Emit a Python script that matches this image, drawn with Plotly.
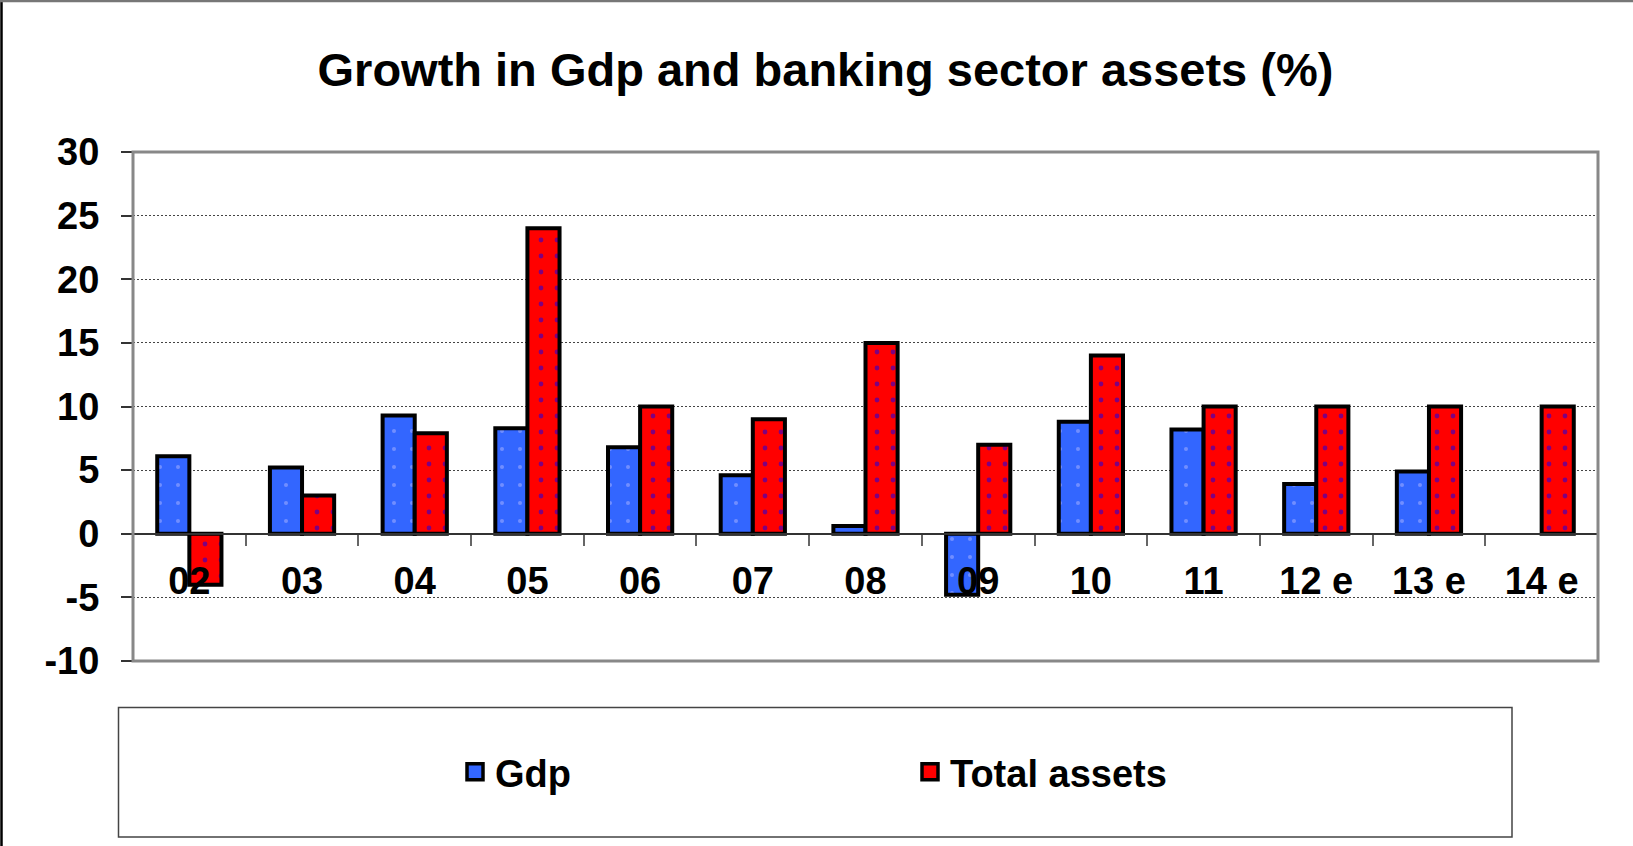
import plotly.graph_objects as go

categories = ["02", "03", "04", "05", "06", "07", "08", "09", "10", "11", "12 e", "13 e", "14 e"]
gdp = [6.1, 5.2, 9.3, 8.3, 6.8, 4.6, 0.6, -4.8, 8.8, 8.2, 3.9, 4.9, None]
total_assets = [-4.0, 3.0, 7.9, 24.0, 10.0, 9.0, 15.0, 7.0, 14.0, 10.0, 10.0, 10.0, 10.0]
y_ticks = [-10, -5, 0, 5, 10, 15, 20, 25, 30]
y_tick_text = ["-10", "-5", "0", "5", "10", "15", "20", "25", "30"]

FONT = "Liberation Sans, Arial, sans-serif"
W, H = 1633, 846
ML, MR, MT, MB = 133, 35, 152, 185
PW = W - ML - MR
PH = H - MT - MB


def px_x(px):
    return (px - ML) / PW


def px_y(py):
    return (H - MB - py) / PH


fig = go.Figure()

fig.add_trace(go.Bar(
    x=categories, y=gdp, name="Gdp", showlegend=False,
    marker=dict(color="#3366FF",
                line=dict(color="black", width=4),
                pattern=dict(shape=".", bgcolor="#3366FF", fgcolor="#B0B6FF",
                             size=18, solidity=0.04)),
))
fig.add_trace(go.Bar(
    x=categories, y=total_assets, name="Total assets", showlegend=False,
    marker=dict(color="#FF0000",
                line=dict(color="black", width=4),
                pattern=dict(shape=".", bgcolor="#FF0000", fgcolor="#0000FF",
                             size=16, solidity=0.07)),
))

# legend entries
fig.add_trace(go.Scatter(
    x=[None], y=[None], mode="markers", name="Gdp",
    marker=dict(symbol="square", size=16, color="#3366FF",
                line=dict(color="black", width=3.5)),
))
fig.add_trace(go.Scatter(
    x=[None], y=[None], mode="markers", name="Total assets",
    marker=dict(symbol="square", size=16, color="#FF0000",
                line=dict(color="black", width=3.5)),
))

fig.update_layout(
    width=W, height=H,
    margin=dict(l=ML, r=MR, t=MT, b=MB, autoexpand=False),
    paper_bgcolor="white", plot_bgcolor="white",
    barmode="group", bargap=0.43, bargroupgap=0,
    font=dict(family=FONT, color="black", size=37, weight=700),
    title=dict(text="Growth in Gdp and banking sector assets (%)",
               x=0.5055, xref="container", xanchor="center",
               y=1 - 70 / H, yref="container", yanchor="middle",
               font=dict(family=FONT, size=47, color="black", weight=700)),
    xaxis=dict(type="category", categoryorder="array", categoryarray=categories,
               range=[-0.5, len(categories) - 0.5],
               anchor="free", position=0.25,
               showline=True, linecolor="#333333", linewidth=1.5,
               ticks="outside", tickson="boundaries", ticklen=11,
               tickcolor="#666666", tickwidth=1.5,
               ticklabelstandoff=14,
               tickfont=dict(family=FONT, size=38, color="black", weight=700),
               showgrid=False, zeroline=False, fixedrange=True),
    yaxis=dict(range=[-10, 30], tickmode="array", tickvals=y_ticks,
               ticktext=y_tick_text,
               ticks="outside", ticklen=11, tickcolor="#333333", tickwidth=1.5,
               ticklabelstandoff=14,
               tickfont=dict(family=FONT, size=38, color="black", weight=700),
               showgrid=True, gridcolor="#444444", griddash="2px,2px", gridwidth=1,
               zeroline=True, zerolinecolor="#333333", zerolinewidth=1.5,
               showline=False, fixedrange=True),
    legend=dict(orientation="h", x=px_x(455), xanchor="left",
                y=px_y(772), yanchor="middle",
                entrywidth=410, entrywidthmode="pixels",
                bgcolor="rgba(0,0,0,0)", borderwidth=0,
                font=dict(family=FONT, size=38, color="black", weight=700),
                itemsizing="trace"),
    shapes=[
        # plot frame
        dict(type="rect", xref="paper", yref="paper", x0=0, x1=1, y0=0, y1=1,
             line=dict(color="#888888", width=3), layer="above"),
        # legend box
        dict(type="rect", xref="paper", yref="paper",
             x0=px_x(118.5), x1=px_x(1512), y0=px_y(837), y1=px_y(707.5),
             line=dict(color="#444444", width=1.5)),
        # outer chart border (left and top)
        dict(type="line", xref="paper", yref="paper",
             x0=px_x(1.5), x1=px_x(1.5), y0=px_y(0), y1=px_y(846),
             line=dict(color="black", width=2.5)),
        dict(type="line", xref="paper", yref="paper",
             x0=px_x(0), x1=px_x(1633), y0=px_y(1), y1=px_y(1),
             line=dict(color="#777777", width=2.5)),
    ],
)

fig.write_html("out.html", config={"displayModeBar": False})
